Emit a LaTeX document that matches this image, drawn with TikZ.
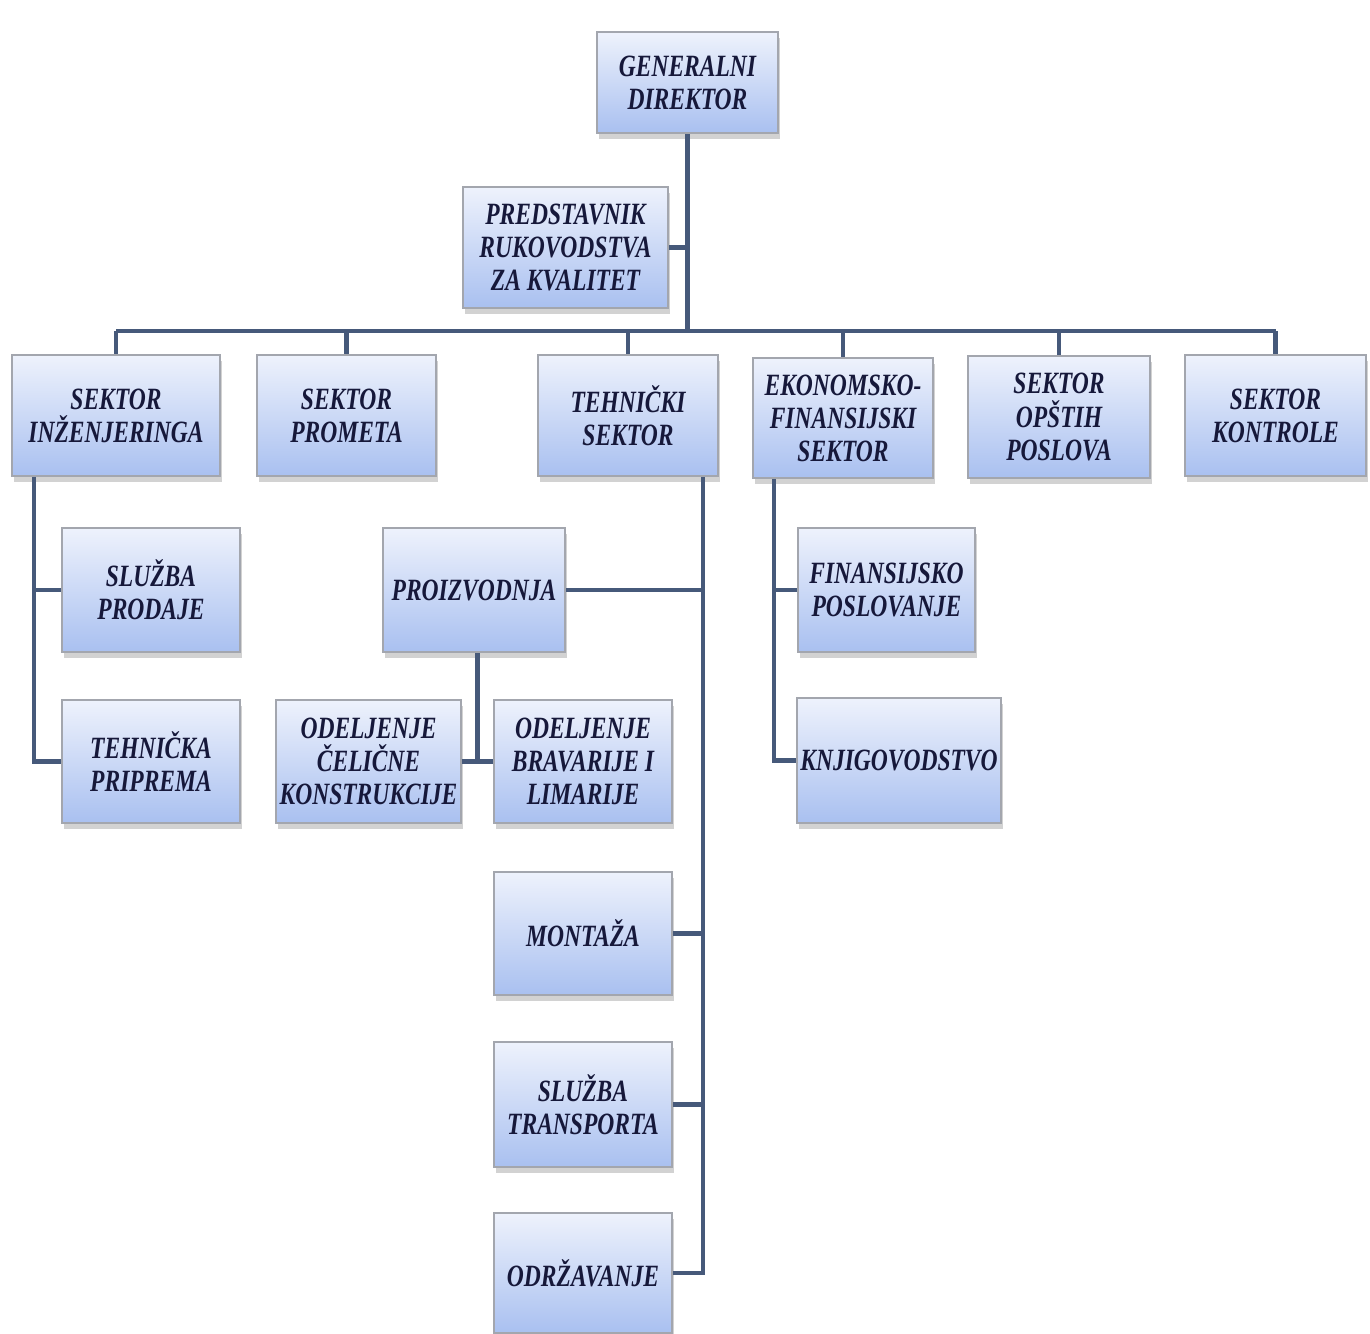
\documentclass[tikz,border=0pt]{standalone}
\usepackage{fontspec}
\newfontfamily\orgfont{Liberation Serif}[FakeStretch=0.76]
\usetikzlibrary{calc,shadows}
\definecolor{linec}{HTML}{46597A}
\definecolor{boxtop}{HTML}{EEF2FC}
\definecolor{boxbot}{HTML}{A9C0F0}
\definecolor{boxline}{HTML}{A3A6AE}
\definecolor{txtc}{HTML}{16183A}
\begin{document}
\begin{tikzpicture}[x=0.01cm,y=-0.01cm,
  orgbox/.style={draw=boxline, line width=0.6pt, shading=axis, top color=boxtop, bottom color=boxbot,
    drop shadow={shadow xshift=0.6pt, shadow yshift=-1.6pt, fill=black!35},
    minimum width=1.79cm, minimum height=1.23cm, align=center, inner sep=1pt,
    text=txtc, font=\orgfont\bfseries\itshape\fontsize{8.8}{9.4}\selectfont},
  conn/.style={draw=linec, line width=1.25pt}]
\fill[white] (0,0) rectangle (1370,1333);
\useasboundingbox (0,0) rectangle (1370,1333);
\node[orgbox, minimum width=1.81cm, minimum height=1.01cm] (gd) at (687.5,82.5) {GENERALNI\\DIREKTOR};
\node[orgbox, minimum width=2.05cm, minimum height=1.21cm] (prk) at (565.5,247.5) {PREDSTAVNIK\\RUKOVODSTVA\\ZA KVALITET};
\node[orgbox, minimum width=2.08cm, minimum height=1.21cm] (sin) at (116,415.5) {SEKTOR\\INŽENJERINGA};
\node[orgbox, minimum height=1.21cm] (spr) at (346.5,415.5) {SEKTOR\\PROMETA};
\node[orgbox, minimum width=1.80cm, minimum height=1.21cm] (tsk) at (628,415.5) {TEHNIČKI\\SEKTOR};
\node[orgbox, minimum width=1.80cm, minimum height=1.20cm] (efs) at (843,418) {EKONOMSKO-\\FINANSIJSKI\\SEKTOR};
\node[orgbox, minimum width=1.82cm, minimum height=1.22cm] (sop) at (1059,417) {SEKTOR\\OPŠTIH\\POSLOVA};
\node[orgbox, minimum width=1.81cm, minimum height=1.21cm] (sko) at (1275.5,415.5) {SEKTOR\\KONTROLE};
\node[orgbox, minimum width=1.78cm, minimum height=1.24cm] (spd) at (151,590) {SLUŽBA\\PRODAJE};
\node[orgbox, minimum width=1.78cm] (tpr) at (151,761.5) {TEHNIČKA\\PRIPREMA};
\node[orgbox, minimum width=1.82cm, minimum height=1.24cm] (pro) at (474,590) {PROIZVODNJA};
\node[orgbox, minimum width=1.81cm] (ock) at (368.5,761.5) {ODELJENJE\\ČELIČNE\\KONSTRUKCIJE};
\node[orgbox, minimum width=1.78cm] (obl) at (583,761.5) {ODELJENJE\\BRAVARIJE I\\LIMARIJE};
\node[orgbox, minimum width=1.78cm] (mon) at (583,933.5) {MONTAŽA};
\node[orgbox, minimum width=1.78cm, minimum height=1.25cm] (str) at (583,1104.5) {SLUŽBA\\TRANSPORTA};
\node[orgbox, minimum width=1.78cm, minimum height=1.20cm] (odr) at (583,1273) {ODRŽAVANJE};
\node[orgbox, minimum width=1.77cm, minimum height=1.24cm] (fpo) at (886.5,590) {FINANSIJSKO\\POSLOVANJE};
\node[orgbox, minimum width=2.02cm, minimum height=1.25cm] (knj) at (899,760.5) {KNJIGOVODSTVO};
\coordinate (bus) at (685,331);
\draw[conn] (gd.south) -- (gd.south |- bus);
\draw[conn] (prk.east) -- (prk.east -| gd.south);
\draw[conn] (sin.north |- bus) -- (sko.north |- bus);
\foreach \s in {sin,spr,tsk,efs,sop,sko}
  \draw[conn] (\s.north) -- (\s.north |- bus);
\coordinate (sinl) at ([xshift=0.23cm]sin.south west);
\draw[conn] (sinl) |- (tpr.west);
\draw[conn] (sinl |- spd.west) -- (spd.west);
\coordinate (tskr) at ([xshift=-0.16cm]tsk.south east);
\draw[conn] (tskr) |- (odr.east);
\foreach \s in {pro,mon,str}
  \draw[conn] (\s.east) -- (\s.east -| tskr);
\coordinate (prom) at ($(ock.east)!0.5!(obl.west)$);
\draw[conn] (ock.east) -- (obl.west);
\draw[conn] (prom) -- (prom |- pro.south);
\coordinate (efsl) at ([xshift=0.22cm]efs.south west);
\draw[conn] (efsl) |- (knj.west);
\draw[conn] (efsl |- fpo.west) -- (fpo.west);
\end{tikzpicture}
\end{document}
